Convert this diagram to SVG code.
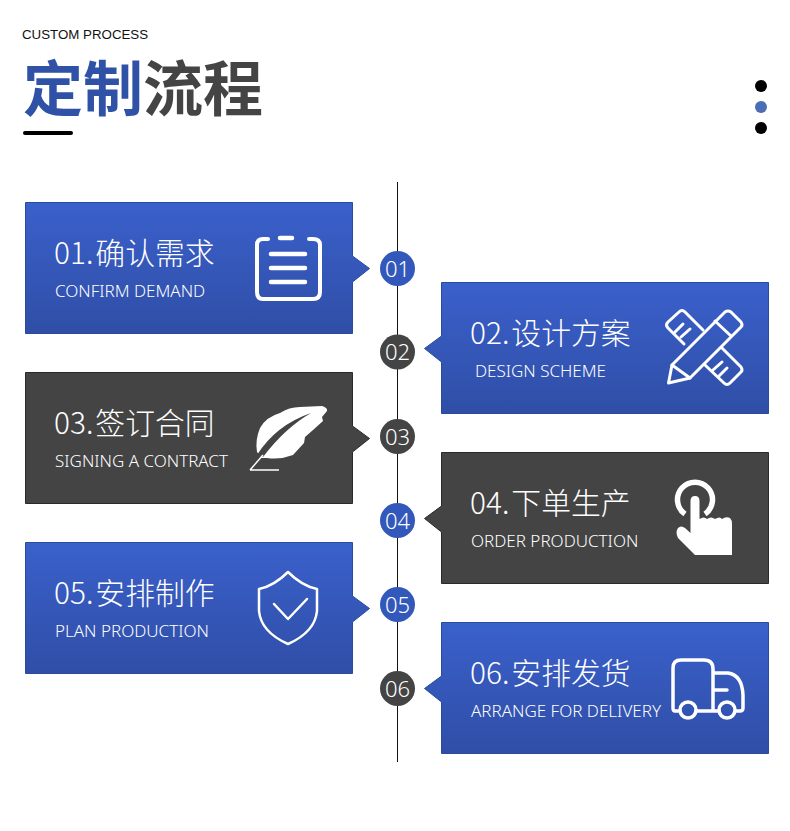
<svg xmlns="http://www.w3.org/2000/svg" width="790" height="831" viewBox="0 0 790 831">
<style>
.h{font-family:"Noto Sans CJK SC","Noto Sans",sans-serif;font-size:29.800px;font-weight:300;fill:#fff}
.s{font-family:"Noto Sans","Noto Sans CJK SC",sans-serif;font-size:17px;font-weight:300;fill:#fff}
.n{font-family:"Noto Sans","Noto Sans CJK SC",sans-serif;font-size:22px;font-weight:300;fill:#fff;text-anchor:middle}
.t{font-family:"Noto Sans CJK SC",sans-serif;font-size:60px;font-weight:700}
.ib{fill:url(#blue);stroke:#2b4a9c;stroke-width:1}
.id{fill:#444;stroke:#2a2a2a;stroke-width:1}
.ic{fill:none;stroke:#fff;stroke-linecap:round;stroke-linejoin:round}
.cb{fill:#3358bb}
.cd{fill:#444}
</style>
<defs>
<linearGradient id="blue" x1="0" y1="0" x2="0" y2="1"><stop offset="0" stop-color="#3a60cb"/><stop offset="1" stop-color="#2f4ea6"/></linearGradient>
</defs>
<rect width="790" height="831" fill="#fff"/>
<g id="header">
<text x="22" y="39" font-family="Liberation Sans, sans-serif" font-size="13.300" fill="#111">CUSTOM PROCESS</text>
<text x="23" y="111" class="t"><tspan fill="#2f52a6">定制</tspan><tspan fill="#444">流程</tspan></text>
<rect x="23" y="131" width="50" height="4" rx="2" fill="#000"/>
<circle cx="761" cy="86" r="6" fill="#000"/>
<circle cx="761" cy="107" r="6" fill="#4a6db5"/>
<circle cx="761" cy="128" r="6" fill="#000"/>
</g>
<g id="connectors"><line x1="397.500" y1="182" x2="397.500" y2="762" stroke="#111" stroke-width="1"/></g>

<g id="step1">
<path class="ib" d="M25.500 202.500H352.500V256L369.500 268.500L352.500 282V333.500H25.500Z"/>
<text class="h" x="54" y="264">01.<tspan dx="2">确认需求</tspan></text>
<text class="s" x="55" y="297">CONFIRM DEMAND</text>
<path class="ic" stroke-width="4" d="M268 239H263Q257 239 257 245V292Q257 299 263 299H313Q320 299 320 292V245Q320 239 313 239H309"/>
<path class="ic" stroke-width="4.500" d="M280 238H292M271 254H305M271 268H305M271 282H305"/>
</g>
<g id="step2">
<path class="ib" d="M768.500 282.500H441.500V336L424.500 348.500L441.500 362V413.500H768.500Z"/>
<text class="h" x="470" y="344">02.<tspan dx="2">设计方案</tspan></text>
<text class="s" x="475" y="377">DESIGN SCHEME</text>
<g class="ic" stroke-width="3">
<path d="M668.500 383L672 365L725 312Q728 310 731 312L741 322Q743 325 741 327L690 378Z"/>
<path d="M672 365L690 378M715 321L731 336"/>
<path d="M703 330L685 312Q682 309 679 312L668 322Q665 325 668 328L684 344"/>
<path d="M675 332L683 324M681 337L690 329"/>
<path d="M722 348L741 367Q743 370 741 372L730 383Q727 386 724 383L705 365"/>
<path d="M713 370L722 362M719 376L727 368"/>
</g>
</g>
<g id="step3">
<path class="id" d="M25.500 372.500H352.500V426L369.500 438.500L352.500 452V503.500H25.500Z"/>
<text class="h" x="54" y="434">03.<tspan dx="2">签订合同</tspan></text>
<text class="s" x="55" y="467">SIGNING A CONTRACT</text>
<path fill="#fff" d="M257 452Q255 440 260 428Q266 417 280 413Q289 407 300 407L322 406Q328 408 327 411L322 417L323 421L313 430L305 437L304 443L293 455Q280 460 267 458L262 458Z"/>
<path fill="#444" d="M257 455Q276 425 311 413Q285 428 263 457Z"/>
<path fill="none" stroke="#fff" stroke-width="1.500" d="M250 470L263 455M250 470H279"/>
</g>
<g id="step4">
<path class="id" d="M768.500 452.500H441.500V506L424.500 518.500L441.500 532V583.500H768.500Z"/>
<text class="h" x="470" y="514">04.<tspan dx="2">下单生产</tspan></text>
<text class="s" x="471" y="547">ORDER PRODUCTION</text>
<path fill="none" stroke="#fff" stroke-width="5.500" d="M685 514A17.500 17.500 0 1 1 705 514"/>
<path fill="#fff" d="M690.500 501Q690.500 496 695 496Q699.500 496 699.500 501V519Q704 516 707 519Q711 516 715 519Q720 516 722 519Q726 516 730 518Q732 520 732 524V555H695L678 538Q675 532 678 528Q681 525 685 528L690.500 533Z"/>
</g>
<g id="step5">
<path class="ib" d="M25.500 542.500H352.500V596L369.500 608.500L352.500 622V673.500H25.500Z"/>
<text class="h" x="54" y="604">05.<tspan dx="2">安排制作</tspan></text>
<text class="s" x="55" y="637">PLAN PRODUCTION</text>
<path class="ic" stroke-width="2.500" d="M288 572Q274 586 259 589V611Q261 632 288 644Q315 632 317 611V589Q302 586 288 572Z"/>
<path class="ic" stroke-width="2.500" d="M274 604L288 619L307 599"/>
</g>
<g id="step6">
<path class="ib" d="M768.500 622.500H441.500V676L424.500 688.500L441.500 702V753.500H768.500Z"/>
<text class="h" x="470" y="684">06.<tspan dx="2">安排发货</tspan></text>
<text class="s" x="471" y="717">ARRANGE FOR DELIVERY</text>
<g class="ic" stroke-width="3.500">
<path d="M680 711H675Q673 711 673 708V668Q673 660 681 660H704Q713 660 713 669V711H696M713 673H728Q742 675 743 695V708Q743 711 740 711H736M713 711H719M713 690H727"/>
<circle cx="688" cy="710" r="8"/>
<circle cx="727" cy="710" r="8"/>
</g>
</g>
<g id="nodes">
<g id="n1"><circle class="cb" cx="397.500" cy="268.500" r="17.500"/><text class="n" x="397.500" y="276.500">01</text></g>
<g id="n2"><circle class="cd" cx="397.500" cy="352" r="17.500"/><text class="n" x="397.500" y="360">02</text></g>
<g id="n3"><circle class="cd" cx="397.500" cy="436.500" r="17.500"/><text class="n" x="397.500" y="444.500">03</text></g>
<g id="n4"><circle class="cb" cx="397.500" cy="520.500" r="17.500"/><text class="n" x="397.500" y="528.500">04</text></g>
<g id="n5"><circle class="cb" cx="397.500" cy="604.500" r="17.500"/><text class="n" x="397.500" y="612.500">05</text></g>
<g id="n6"><circle class="cd" cx="397.500" cy="688.500" r="17.500"/><text class="n" x="397.500" y="696.500">06</text></g>
</g>
</svg>
